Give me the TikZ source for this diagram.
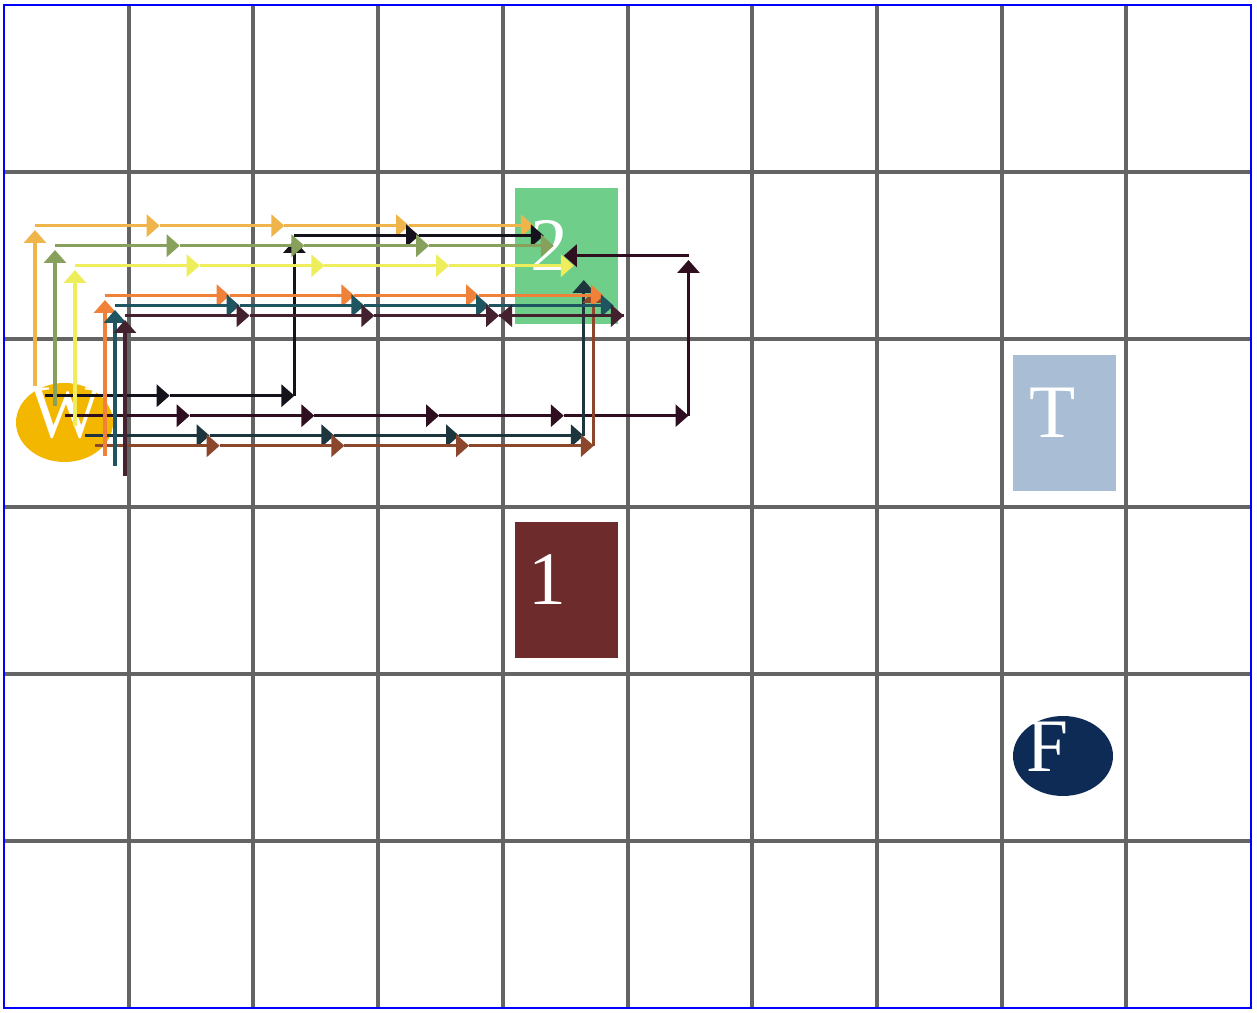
\documentclass[tikz,border=0pt]{standalone}
\usepackage{fontspec}
\setmainfont{Liberation Serif}
\usepackage{xcolor}
\usepackage{tikz}
\usetikzlibrary{shapes.geometric, arrows.meta}

\definecolor{gridgray}{HTML}{646464}
\definecolor{wgold}{HTML}{F4B700}
\definecolor{boxgreen}{HTML}{6FCF8A}
\definecolor{boxred}{HTML}{6E2B2B}
\definecolor{boxblue}{HTML}{A9BED4}
\definecolor{navy}{HTML}{0D2B55}
\definecolor{tr0}{HTML}{EFB54A}
\definecolor{tr1}{HTML}{15121B}
\definecolor{tr2}{HTML}{87A05B}
\definecolor{tr3}{HTML}{2E0E1F}
\definecolor{tr4}{HTML}{EEEE5D}
\definecolor{tr5}{HTML}{1D363D}
\definecolor{tr6}{HTML}{8C462B}
\definecolor{tr7}{HTML}{F08139}
\definecolor{tr8}{HTML}{1F5560}
\definecolor{tr9}{HTML}{43212F}

% one trail: colour, offset index, list of cells col/row (all start in 0/2)
\newcommand\trail[3]{%
  \foreach \c/\r [remember=\c as \pc (initially 0),
                  remember=\r as \pr (initially 2)] in {#3} {
    \ifnum\c=\pc\relax \def\sh{0.43mm}\else\def\sh{0pt}\fi
    \draw[hop, #1, shorten >=\sh]
      ([shift={(10*#2,10*#2)}]p\pc-\pr) -- ([shift={(10*#2,10*#2)}]p\c-\r);
  }%
}

\begin{document}
\begin{tikzpicture}[
  x=0.1mm, y=-0.1mm,
  % ── Style definitions ──
  gridline/.style={draw=gridgray, line width=0.4mm},
  cellbox/.style={
    rectangle, inner sep=0pt,
    minimum width=10.3mm, minimum height=13.6mm
  },
  token/.style={ellipse, inner sep=0pt},
  lbl/.style={text=white, inner sep=0pt,
    font=\fontsize{21.5}{22}\selectfont},
  hop/.style={line width=0.33mm,
    -{Triangle[length=1.3mm, width=2.2mm]}}
]
\useasboundingbox (0,0) rectangle (1257,1013);

% ─────────── Grid ───────────────────────────────────────────
\foreach \i in {1,...,9}
  \draw[gridline] (4+124.7*\i,5) -- (4+124.7*\i,1008);
\foreach \j in {1,...,5}
  \draw[gridline] (4,5+167.17*\j) -- (1251,5+167.17*\j);
\draw[blue, line width=0.15mm] (4,5) rectangle (1251,1008);

% ─────────── Cells ──────────────────────────────────────────
\node[cellbox, fill=boxgreen] (goal2) at (566,256) {};
\node[lbl] (goal2txt) at (549,245) {2};
\node[cellbox, fill=boxred]   (goal1) at (566,590) {};
\node[lbl] (goal1txt) at (547.5,580) {1};
\node[cellbox, fill=boxblue]  (trap)  at (1064,423) {};
\node[lbl] (traptxt) at (1052.5,413) {T};
\node[token, fill=navy, minimum width=10mm, minimum height=8mm]
  (fin) at (1063,756) {};
\node[lbl] (fintxt) at (1048,747) {F};
\node[token, fill=wgold, minimum width=9.7mm, minimum height=7.9mm]
  (agent) at (64.5,422.5) {};
\node[lbl] (agenttxt) at (66,413) {W};

% ─────────── Trail anchors (row 1 and row 2) ────────────────
\foreach \c in {0,...,5} {
  \coordinate (p\c-1) at (35+124.7*\c,225.7);
  \coordinate (p\c-2) at (35+124.7*\c,385.7);
}

% ─────────── Trails ─────────────────────────────────────────
\trail{tr0}{0}{0/1,1/1,2/1,3/1,4/1}
\trail{tr1}{1}{1/2,2/2,2/1,3/1,4/1}
\trail{tr2}{2}{0/1,1/1,2/1,3/1,4/1}
\trail{tr3}{3}{1/2,2/2,3/2,4/2,5/2,5/1,4/1}
\trail{tr4}{4}{0/1,1/1,2/1,3/1,4/1}
\trail{tr5}{5}{1/2,2/2,3/2,4/2,4/1}
\trail{tr6}{6}{1/2,2/2,3/2,4/2,4/1}
\trail{tr7}{7}{0/1,1/1,2/1,3/1,4/1}
\trail{tr8}{8}{0/1,1/1,2/1,3/1,4/1}
\trail{tr9}{9}{0/1,1/1,2/1,3/1,4/1,3/1}
\end{tikzpicture}
\end{document}
